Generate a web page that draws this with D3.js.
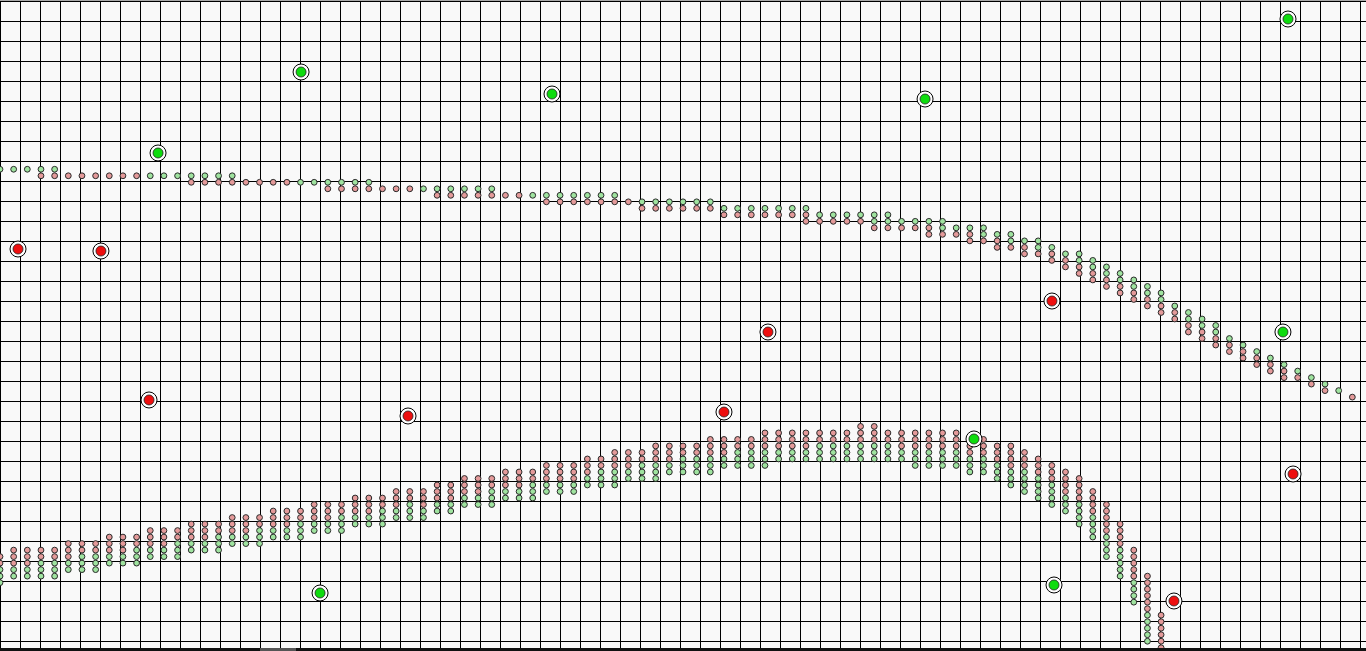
<!DOCTYPE html>
<html><head><meta charset="utf-8">
<script src="https://cdn.jsdelivr.net/npm/d3@7"></script>
<style>html,body{margin:0;padding:0;overflow:hidden;background:#f9f9f9}svg{display:block}</style>
</head><body>
<svg id="c" width="1366" height="651"></svg>
<script>
// ---- data (x: column index 0..99, y: level 0..100 measured downward) ----
const columns = d3.range(100);
// upper trail: top level, green dots (upper part), red dots (below)
const upperTop = [26,26,26,26,26,27,27,27,27,27,27,27,27,27,27,27,27,27,28,28,
  28,28,28,28,28,28,28,28,29,29,29,29,29,29,29,29,29,30,30,30,
  30,30,30,30,30,30,31,31,31,31,31,31,31,32,32,32,32,32,32,32,
  33,33,33,33,33,33,34,34,34,34,35,35,35,36,36,37,37,38,39,39,
  40,41,42,43,44,45,47,48,49,50,52,53,54,55,56,57,58,59,60,61];
const upperGreen = [1,1,1,1,1,0,0,0,0,0,0,1,1,1,1,1,1,1,0,0,
  0,0,1,1,1,1,1,1,0,0,0,1,1,1,1,1,1,0,0,1,
  1,1,1,1,1,1,0,1,1,1,1,1,1,1,1,1,1,1,1,1,
  1,1,1,1,2,2,1,1,1,2,1,1,2,1,2,1,2,1,1,2,
  2,2,2,2,2,2,1,2,2,2,1,1,1,1,1,1,1,1,1,0];
const upperRed = [0,0,0,1,1,1,1,1,1,1,1,0,0,0,1,1,1,1,1,1,
  1,1,0,0,1,1,1,1,1,1,1,0,1,1,1,1,1,1,1,0,
  1,1,1,1,1,1,1,1,1,1,1,1,1,1,1,1,1,1,1,2,
  1,1,1,1,1,1,1,1,2,1,1,2,1,2,1,2,1,2,2,2,
  2,2,2,2,2,2,2,2,2,2,2,2,2,2,2,1,1,1,0,1];
// lower band: top level, red dots (upper part), green dots (below)
const lowerTop = [85.5,84.5,84.5,84.5,84.5,83.5,83.5,83.5,82.5,82.5,82.5,81.5,81.5,81.5,80.5,80.5,80.5,79.5,79.5,79.5,
  78.5,78.5,78.5,77.5,77.5,77.5,76.5,76.5,76.5,75.5,75.5,75.5,74.5,74.5,73.5,73.5,73.5,72.5,72.5,72.5,
  71.5,71.5,71.5,70.5,70.5,69.5,69.5,69.5,68.5,68.5,68.5,68.5,67.5,67.5,67.5,67.5,66.5,66.5,66.5,66.5,
  66.5,66.5,66.5,65.5,65.5,66.5,66.5,66.5,66.5,66.5,66.5,67.5,67.5,68.5,68.5,69.5,70.5,71.5,72.5,73.5,
  75.5,77.5,80.5,84.5,88.5,94.5];
const lowerRed = [2,3,3,2,2,3,2,2,3,3,2,3,3,2,3,3,2,3,3,2,
  3,3,2,3,3,2,3,3,2,3,2,3,3,3,3,3,2,3,3,2,
  3,3,3,3,2,3,3,2,3,3,2,2,3,3,2,2,3,3,3,3,
  2,2,2,3,3,2,3,3,3,3,3,3,3,3,4,3,3,3,4,4,
  4,5,4,5,6,6];
const lowerGreen = [3,2,2,3,3,2,3,3,2,2,3,2,2,3,2,2,3,2,2,3,
  2,2,3,2,2,3,2,2,3,2,3,2,2,2,2,2,3,2,2,3,
  2,2,2,2,3,3,2,3,3,2,3,3,3,2,3,3,3,2,2,2,
  3,3,3,3,3,3,2,3,3,3,3,3,3,3,3,4,4,4,3,4,
  4,4,5,4,5,0];
// highlighted markers
const greenMarkX = [22.04, 40.41, 67.72, 94.29, 11.57, 71.30, 93.92, 77.16, 23.43];
const greenMarkY = [11.06, 14.44, 15.21, 2.92, 23.50, 67.43, 51.00, 89.86, 91.09];
const redMarkX = [1.32, 7.39, 10.91, 29.87, 53.00, 56.22, 77.01, 94.66, 85.94];
const redMarkY = [38.25, 38.56, 61.44, 63.90, 63.29, 51.00, 46.24, 72.81, 92.32];

// ---- drawing ----
const W = 1366, H = 651, GRID = 20;
const svg = d3.select('#c');
const x = d3.scaleLinear().domain([0, 100]).range([0, W]);
const y = d3.scaleLinear().domain([0, 100]).range([0, H]);

svg.append('rect').attr('width', W).attr('height', H).attr('fill', '#f9f9f9');

const g = svg.append('g').attr('shape-rendering', 'crispEdges');
g.selectAll('line.v').data(d3.range(0, W + 1, GRID)).join('line')
  .attr('x1', d => d + 0.5).attr('x2', d => d + 0.5).attr('y1', 0).attr('y2', H)
  .attr('stroke', '#000').attr('stroke-width', 1.3);
g.selectAll('line.h').data(d3.range(1, H + 1, GRID)).join('line')
  .attr('y1', d => d + 0.5).attr('y2', d => d + 0.5).attr('x1', 0).attr('x2', W)
  .attr('stroke', '#000').attr('stroke-width', 1.3);
g.append('line').attr('x1', 0).attr('x2', W).attr('y1', 0.5).attr('y2', 0.5).attr('stroke', '#aaa');

// build dot list
const dots = [];
columns.forEach(i => {
  let lv = upperTop[i];
  for (let k = 0; k < upperGreen[i]; k++) dots.push({i, lv: lv++, c: 'g'});
  for (let k = 0; k < upperRed[i]; k++) dots.push({i, lv: lv++, c: 'r'});
  if (i < lowerTop.length) {
    lv = lowerTop[i];
    for (let k = 0; k < lowerRed[i]; k++) dots.push({i, lv: lv++, c: 'r'});
    for (let k = 0; k < lowerGreen[i]; k++) dots.push({i, lv: lv++, c: 'g'});
  }
});
const fillC = {g: '#9fe39f', r: '#e49a9a'};
svg.append('g').selectAll('circle').data(dots).join('circle')
  .attr('cx', d => x(d.i)).attr('cy', d => y(d.lv)).attr('r', 2.9)
  .attr('fill', d => fillC[d.c]).attr('stroke', '#2a2a2a').attr('stroke-width', 1);

const marks = greenMarkX.map((v, k) => ({mx: v, my: greenMarkY[k], c: '#0fdc0f'}))
  .concat(redMarkX.map((v, k) => ({mx: v, my: redMarkY[k], c: '#ee0f0f'})));
const mg = svg.append('g').selectAll('g').data(marks).join('g')
  .attr('transform', d => `translate(${x(d.mx)},${y(d.my)})`);
mg.append('circle').attr('r', 8).attr('fill', '#fff').attr('stroke', '#000').attr('stroke-width', 1);
mg.append('circle').attr('r', 5).attr('fill', d => d.c).attr('stroke', '#222').attr('stroke-width', 0.8);

// bottom bar
svg.append('rect').attr('x', 0).attr('y', 648).attr('width', W).attr('height', 3).attr('fill', '#111');
svg.append('rect').attr('x', 260).attr('y', 648).attr('width', 36).attr('height', 3).attr('fill', '#555');
</script>
</body></html>
